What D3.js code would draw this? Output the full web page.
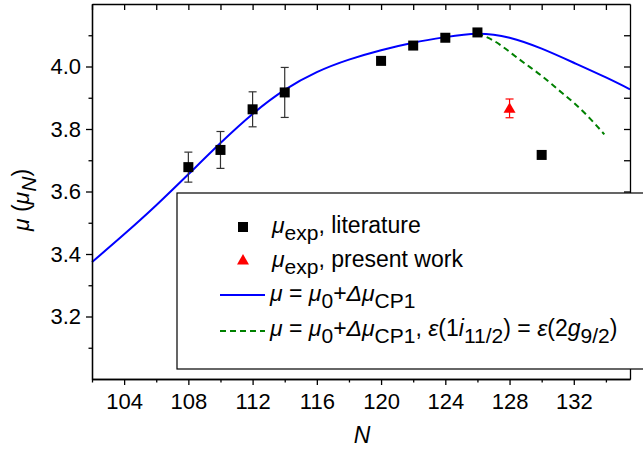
<!DOCTYPE html>
<meta charset="utf-8">
<script src="https://d3js.org/d3.v7.min.js"></script>
<style>
  body { margin: 0; background: #fff; }
  text { font-family: "Liberation Sans", Arial, sans-serif; }
</style>
<div id="chart"></div>

<script>
    // measured points (literature)
    var litN   = [108, 110, 112, 114, 120, 122, 124, 126, 130];
    var litMu  = [3.678, 3.733, 3.863, 3.917, 4.018, 4.067, 4.092, 4.109, 3.717];
    var litErr = [0.048, 0.059, 0.056, 0.080, 0, 0, 0, 0, 0];

    // present work
    var presN   = [128];
    var presMu  = [3.866];
    var presErr = [0.030];

    // mu = mu0 + dmu_CP1
    var curveN  = [102, 104, 106, 108, 110, 112, 114, 116, 118, 120, 122, 124, 126, 128, 130, 132, 134, 135.5];
    var curveMu = [3.374, 3.463, 3.556, 3.655, 3.755, 3.848, 3.925, 3.982, 4.022, 4.052, 4.076, 4.094, 4.105, 4.092, 4.057, 4.012, 3.965, 3.927];

    // same with eps(1i11/2) = eps(2g9/2)
    var dashN  = [126, 127, 128, 129, 130, 131, 132, 133, 133.9];
    var dashMu = [4.106, 4.083, 4.047, 4.008, 3.970, 3.927, 3.884, 3.834, 3.783];

    var xMajor = [104, 108, 112, 116, 120, 124, 128, 132];
    var xMinor = [102, 106, 110, 114, 118, 122, 126, 130, 134];
    var yMajor = [3.2, 3.4, 3.6, 3.8, 4.0];
    var yMinor = [3.1, 3.3, 3.5, 3.7, 3.9, 4.1];

    var W = 643, H = 450;
    var pL = 92, pR = 630, pT = 4, pB = 379;

    var svg = d3.select("#chart")
      .append("svg")
        .attr("width", W)
        .attr("height", H);

    var x = d3.scaleLinear().domain([102, 135.5]).range([pL, pR]);
    var y = d3.scaleLinear().domain([3.0, 4.2]).range([pB, pT]);

    // curves
    var line = d3.line()
      .x(function(d) { return x(d[0]); })
      .y(function(d) { return y(d[1]); })
      .curve(d3.curveNatural);

    svg.append("path")
      .datum(d3.zip(curveN, curveMu))
      .attr("d", line)
      .attr("fill", "none")
      .attr("stroke", "#0000ff")
      .attr("stroke-width", 2);

    svg.append("path")
      .datum(d3.zip(dashN, dashMu))
      .attr("d", line)
      .attr("fill", "none")
      .attr("stroke", "#008000")
      .attr("stroke-width", 2)
      .attr("stroke-dasharray", "6,4");

    // Axes
    svg.append("g")
      .attr("transform", "translate(0," + pB + ")")
      .call(d3.axisBottom(x).tickValues(xMajor).tickSize(6).tickSizeOuter(0).tickPadding(8).tickFormat(d3.format("d")));
    svg.append("g")
      .attr("transform", "translate(0," + pB + ")")
      .call(d3.axisBottom(x).tickValues(xMinor).tickSize(3.5).tickSizeOuter(0).tickFormat(""));
    svg.append("g")
      .attr("transform", "translate(" + pL + ",0)")
      .call(d3.axisLeft(y).tickValues(yMajor).tickSize(6).tickSizeOuter(0).tickPadding(5).tickFormat(d3.format(".1f")));
    svg.append("g")
      .attr("transform", "translate(" + pL + ",0)")
      .call(d3.axisLeft(y).tickValues(yMinor).tickSize(3.5).tickSizeOuter(0).tickFormat(""));
    // top and right (inward ticks)
    svg.append("g")
      .attr("transform", "translate(0," + pT + ")")
      .call(d3.axisTop(x).tickValues(xMajor.concat(xMinor)).tickSize(-6).tickSizeOuter(0).tickFormat(""));
    svg.append("g")
      .attr("transform", "translate(" + pR + ",0)")
      .call(d3.axisRight(y).tickValues(yMajor.concat(yMinor)).tickSize(-6).tickSizeOuter(0).tickFormat(""));

    svg.selectAll(".domain, .tick line").attr("stroke", "#000").attr("stroke-width", 1.3);
    svg.selectAll(".tick text").attr("fill", "#000").attr("font-size", 22)
      .attr("font-family", "'Liberation Sans', Arial, sans-serif");

    // error bars
    function errBars(N, mu, err, color) {
      var g = svg.append("g").attr("stroke", color).attr("stroke-width", 1.2);
      d3.zip(N, mu, err).forEach(function(d) {
        if (!d[2]) return;
        var cx = x(d[0]), y1 = y(d[1] + d[2]), y2 = y(d[1] - d[2]);
        g.append("line").attr("x1", cx).attr("x2", cx).attr("y1", y1).attr("y2", y2);
        g.append("line").attr("x1", cx - 4).attr("x2", cx + 4).attr("y1", y1).attr("y2", y1);
        g.append("line").attr("x1", cx - 4).attr("x2", cx + 4).attr("y1", y2).attr("y2", y2);
      });
    }
    errBars(litN, litMu, litErr, "#333");
    errBars(presN, presMu, presErr, "#ff0000");

    var sq = 10;
    svg.selectAll("rect.lit")
      .data(d3.zip(litN, litMu))
      .enter()
      .append("rect")
      .attr("x", function(d) { return x(d[0]) - sq / 2; })
      .attr("y", function(d) { return y(d[1]) - sq / 2; })
      .attr("width", sq)
      .attr("height", sq)
      .attr("fill", "#000");

    var tri = d3.symbol().type(d3.symbolTriangle).size(62);
    svg.selectAll("path.pres")
      .data(d3.zip(presN, presMu))
      .enter()
      .append("path")
      .attr("d", tri)
      .attr("transform", function(d) { return "translate(" + x(d[0]) + "," + (y(d[1]) + 1) + ")"; })
      .attr("fill", "#ff0000");

    // rich text helper: segments [text, italic, sub]
    function rich(sel, segs, size) {
      var shift = 0;
      segs.forEach(function(s) {
        var t = sel.append("tspan").text(s[0]);
        if (s[1]) t.style("font-style", "italic");
        var want = s[2] ? 7 : 0;
        if (want !== shift) { t.attr("dy", want - shift); shift = want; }
        if (s[2]) t.style("font-size", (size - 2) + "px");
      });
    }

    // legend
    var lg = svg.append("g");
    lg.append("rect")
      .attr("x", 177).attr("y", 193)
      .attr("width", 480).attr("height", 176)
      .attr("fill", "#fff").attr("stroke", "#000").attr("stroke-width", 1.2);

    lg.append("rect").attr("x", 238).attr("y", 222).attr("width", sq).attr("height", sq).attr("fill", "#000");
    lg.append("path").attr("d", tri).attr("transform", "translate(243,261)").attr("fill", "#ff0000");
    lg.append("line").attr("x1", 220).attr("x2", 265).attr("y1", 295).attr("y2", 295)
      .attr("stroke", "#0000ff").attr("stroke-width", 2);
    lg.append("line").attr("x1", 220).attr("x2", 265).attr("y1", 331).attr("y2", 331)
      .attr("stroke", "#008000").attr("stroke-width", 2).attr("stroke-dasharray", "6,4");

    var fs = 23;
    var base = [["μ", 1, 0], [" = ", 0, 0], ["μ", 1, 0], ["0", 0, 1], ["+", 0, 0], ["Δμ", 1, 0], ["CP1", 0, 1]];
    var rows = [
      [[["μ", 1, 0], ["exp", 0, 1], [", literature", 0, 0]], 272, 233],
      [[["μ", 1, 0], ["exp", 0, 1], [", present work", 0, 0]], 272, 267],
      [base, 270, 301],
      [base.concat([[", ", 0, 0], ["ε", 1, 0], ["(1", 0, 0], ["i", 1, 0], ["11/2", 0, 1], [") = ", 0, 0],
                    ["ε", 1, 0], ["(2", 0, 0], ["g", 1, 0], ["9/2", 0, 1], [")", 0, 0]]), 270, 336]
    ];
    rows.forEach(function(r) {
      var t = lg.append("text").attr("x", r[1]).attr("y", r[2]).style("font-size", fs + "px").attr("fill", "#000");
      rich(t, r[0], fs);
    });

    // axis titles
    var yl = svg.append("text")
      .attr("transform", "translate(29,200) rotate(-90)")
      .attr("text-anchor", "middle")
      .style("font-size", "23px");
    rich(yl, [["μ", 1, 0], [" (", 0, 0], ["μ", 1, 0], ["N", 1, 1], [")", 0, 0]], 23);

    svg.append("text")
      .attr("x", 362).attr("y", 443)
      .attr("text-anchor", "middle")
      .style("font-size", "23px")
      .style("font-style", "italic")
      .text("N");
</script>
